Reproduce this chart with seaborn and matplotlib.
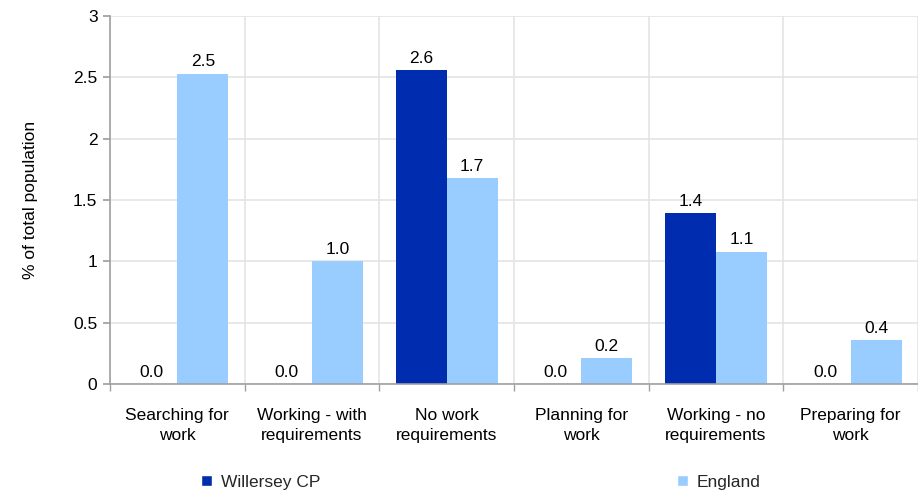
import matplotlib
matplotlib.use("Agg")
import matplotlib.pyplot as plt
from matplotlib.ticker import FixedLocator, FuncFormatter
from matplotlib.patches import Patch
import seaborn as sns
import pandas as pd
import numpy as np

categories = ["Searching for\nwork", "Working - with\nrequirements", "No work\nrequirements",
              "Planning for\nwork", "Working - no\nrequirements", "Preparing for\nwork"]
willersey = [0.0, 0.0, 2.56, 0.0, 1.39, 0.0]
england = [2.53, 1.00, 1.68, 0.21, 1.08, 0.36]
series = ["Willersey CP", "England"]
colors = ["#002DB0", "#99CCFF"]
y_ticks = [0, 0.5, 1, 1.5, 2, 2.5, 3]

df = pd.DataFrame({
    "category": categories * 2,
    "value": willersey + england,
    "series": [series[0]] * len(categories) + [series[1]] * len(categories),
})

sns.set_theme(style="white")
plt.rcParams["font.family"] = ["Liberation Sans", "DejaVu Sans"]
FS = 12.5

fig = plt.figure(figsize=(9.18, 4.93), dpi=100)
ax = fig.add_axes([110 / 918, 1 - 384 / 493, 1 - 110 / 918, (384 - 16) / 493])

sns.barplot(data=df, x="category", y="value", hue="series", hue_order=series,
            order=categories, palette=colors, width=0.755, errorbar=None,
            saturation=1, ax=ax, legend=False, linewidth=0)

for cont in ax.containers:
    ax.bar_label(cont, labels=[f"{b.get_height():.1f}" for b in cont],
                 padding=3, fontsize=FS, color="#000000")

ax.set_xlim(-0.5, len(categories) - 0.5)
ax.set_ylim(0, 3)
ax.yaxis.set_major_locator(FixedLocator(y_ticks))
ax.yaxis.set_major_formatter(FuncFormatter(lambda v, p: f"{v:g}"))
ax.xaxis.set_minor_locator(FixedLocator(np.arange(-0.5, len(categories), 1.0)))

ax.grid(axis="y", which="major", color="#E4E4E4", linewidth=1.2)
ax.grid(axis="x", which="minor", color="#E4E4E4", linewidth=1.2)
ax.grid(axis="x", which="major", visible=False)
ax.set_axisbelow(True)

for s in ["top", "right"]:
    ax.spines[s].set_visible(False)
for s in ["left", "bottom"]:
    ax.spines[s].set_color("#A0A0A0")
    ax.spines[s].set_linewidth(1.2)

ax.tick_params(axis="x", which="major", length=0, pad=17, labelsize=FS, colors="#000000")
ax.tick_params(axis="x", which="minor", length=5, direction="out", color="#A0A0A0", bottom=True)
ax.tick_params(axis="y", which="major", length=5, direction="out", color="#A0A0A0", left=True,
               labelsize=FS, labelcolor="#000000", pad=4)
for t in ax.get_xticklabels():
    t.set_linespacing(1.42)

ax.set_xlabel("")
ax.set_ylabel("% of total population", fontsize=FS, color="#000000", labelpad=25)

h1 = [Patch(facecolor=colors[0])]
h2 = [Patch(facecolor=colors[1])]
fig.legend(h1, [series[0]], loc="center left", bbox_to_anchor=(185 / 918, 1 - 482 / 493),
           frameon=False, fontsize=FS, handlelength=0.65, handleheight=0.65, handletextpad=0.5)
fig.legend(h2, [series[1]], loc="center left", bbox_to_anchor=(661 / 918, 1 - 482 / 493),
           frameon=False, fontsize=FS, handlelength=0.65, handleheight=0.65, handletextpad=0.5)

fig.savefig("out.png", dpi=100)
